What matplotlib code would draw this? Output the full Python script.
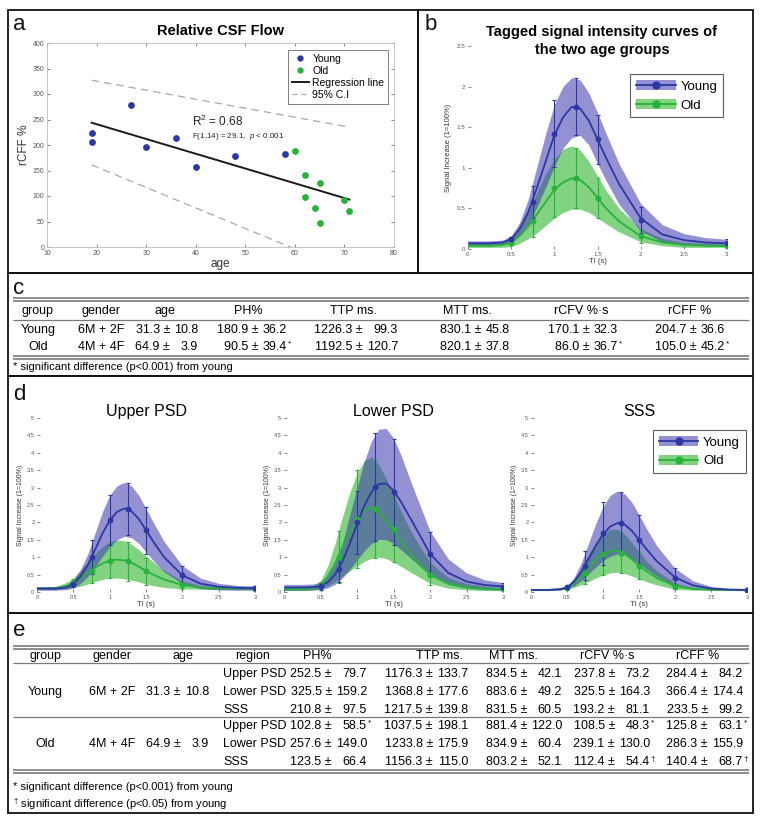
import numpy as np
import matplotlib
matplotlib.use("Agg")
import matplotlib.pyplot as plt
from matplotlib.patches import Patch, Rectangle
from matplotlib.lines import Line2D
from matplotlib.ticker import FormatStrFormatter

plt.rcParams['font.family'] = ['Liberation Sans', 'DejaVu Sans']
plt.rcParams['mathtext.fontset'] = 'custom'
plt.rcParams['mathtext.rm'] = 'Liberation Sans'
plt.rcParams['mathtext.it'] = 'Liberation Sans:italic'

# ---------------- data ----------------
# panel a: relative CSF flow vs age
young_age = [19, 19, 27, 30, 36, 40, 48, 58]
young_rcff = [223, 206, 279, 196, 213, 157, 179, 182]
old_age = [60, 62, 62, 64, 65, 65, 70, 71]
old_rcff = [188, 141, 99, 77, 125, 47, 92, 70]
ci_age = [19, 71]
ci_upper = [327, 235]
ci_lower = [161, -48]

# tagged signal curves
ti_fine = [0, 0.25, 0.4, 0.5, 0.6, 0.7, 0.8, 0.9, 1.0, 1.1, 1.2, 1.3, 1.4, 1.5, 1.6, 1.75, 2.0, 2.25, 2.5, 2.75, 3.0]
ti_meas = [0.5, 0.75, 1.0, 1.25, 1.5, 2.0, 3.0]

# panel b (all regions)
b_young_mid = [0.07, 0.07, 0.08, 0.12, 0.25, 0.46, 0.76, 1.08, 1.40, 1.62, 1.75, 1.73, 1.58, 1.35, 1.12, 0.80, 0.38, 0.18, 0.11, 0.08, 0.07]
b_young_hi = [0.10, 0.10, 0.11, 0.16, 0.33, 0.62, 1.02, 1.42, 1.78, 2.00, 2.11, 2.08, 1.92, 1.68, 1.42, 1.05, 0.56, 0.30, 0.19, 0.14, 0.12]
b_young_lo = [0.04, 0.04, 0.05, 0.08, 0.17, 0.31, 0.52, 0.76, 1.02, 1.24, 1.37, 1.40, 1.28, 1.05, 0.84, 0.55, 0.22, 0.09, 0.05, 0.04, 0.03]
b_old_mid = [0.04, 0.04, 0.05, 0.08, 0.16, 0.28, 0.43, 0.58, 0.73, 0.82, 0.87, 0.85, 0.76, 0.63, 0.50, 0.34, 0.16, 0.08, 0.05, 0.04, 0.04]
b_old_hi = [0.07, 0.07, 0.08, 0.13, 0.27, 0.46, 0.70, 0.93, 1.10, 1.23, 1.27, 1.22, 1.08, 0.90, 0.72, 0.50, 0.25, 0.13, 0.08, 0.07, 0.06]
b_old_lo = [0.02, 0.02, 0.02, 0.03, 0.07, 0.13, 0.20, 0.29, 0.38, 0.45, 0.49, 0.49, 0.45, 0.38, 0.31, 0.21, 0.09, 0.04, 0.02, 0.02, 0.02]
b_young_mean = [0.12, 0.58, 1.42, 1.75, 1.35, 0.36, 0.07]
b_young_sd = [0.03, 0.20, 0.41, 0.35, 0.30, 0.16, 0.05]
b_old_mean = [0.08, 0.35, 0.75, 0.87, 0.63, 0.16, 0.04]
b_old_sd = [0.02, 0.20, 0.36, 0.37, 0.25, 0.08, 0.02]

# panel d: Upper PSD
up_young_mid = [0.10, 0.10, 0.13, 0.23, 0.45, 0.78, 1.22, 1.68, 2.05, 2.30, 2.40, 2.32, 2.10, 1.78, 1.45, 1.00, 0.48, 0.24, 0.15, 0.12, 0.11]
up_young_hi = [0.15, 0.15, 0.20, 0.35, 0.65, 1.10, 1.70, 2.30, 2.78, 3.05, 3.15, 3.05, 2.78, 2.40, 2.00, 1.45, 0.75, 0.40, 0.25, 0.19, 0.17]
up_young_lo = [0.05, 0.05, 0.07, 0.12, 0.25, 0.45, 0.72, 1.02, 1.30, 1.50, 1.60, 1.56, 1.40, 1.15, 0.90, 0.58, 0.24, 0.10, 0.06, 0.05, 0.05]
up_old_mid = [0.10, 0.11, 0.17, 0.26, 0.40, 0.55, 0.70, 0.82, 0.90, 0.93, 0.91, 0.84, 0.73, 0.61, 0.50, 0.36, 0.20, 0.13, 0.11, 0.10, 0.10]
up_old_hi = [0.12, 0.15, 0.27, 0.40, 0.62, 0.87, 1.10, 1.30, 1.44, 1.50, 1.47, 1.37, 1.22, 1.04, 0.86, 0.62, 0.32, 0.18, 0.14, 0.12, 0.12]
up_old_lo = [0.07, 0.07, 0.09, 0.12, 0.17, 0.23, 0.30, 0.36, 0.40, 0.40, 0.38, 0.34, 0.29, 0.23, 0.18, 0.13, 0.09, 0.08, 0.07, 0.07, 0.07]
up_young_mean = [0.23, 1.00, 2.08, 2.38, 1.77, 0.48, 0.12]
up_young_sd = [0.08, 0.48, 0.72, 0.75, 0.68, 0.27, 0.04]
up_old_mean = [0.26, 0.60, 0.90, 0.88, 0.60, 0.20, 0.10]
up_old_sd = [0.10, 0.35, 0.50, 0.55, 0.39, 0.10, 0.02]

# panel d: Lower PSD
lo_young_mid = [0.13, 0.13, 0.14, 0.17, 0.28, 0.50, 0.88, 1.38, 1.95, 2.48, 2.88, 3.10, 3.12, 2.92, 2.60, 2.05, 1.10, 0.55, 0.30, 0.20, 0.16]
lo_young_hi = [0.22, 0.22, 0.23, 0.28, 0.45, 0.80, 1.40, 2.20, 3.00, 3.75, 4.35, 4.68, 4.70, 4.42, 3.95, 3.10, 1.75, 0.95, 0.55, 0.35, 0.27]
lo_young_lo = [0.05, 0.05, 0.06, 0.07, 0.12, 0.22, 0.40, 0.65, 0.92, 1.18, 1.40, 1.51, 1.50, 1.40, 1.22, 0.95, 0.48, 0.22, 0.11, 0.07, 0.05]
lo_old_mid = [0.08, 0.08, 0.11, 0.20, 0.45, 0.82, 1.28, 1.72, 2.08, 2.35, 2.42, 2.28, 2.05, 1.78, 1.48, 1.05, 0.50, 0.24, 0.14, 0.10, 0.08]
lo_old_hi = [0.12, 0.12, 0.18, 0.32, 0.75, 1.40, 2.15, 2.85, 3.40, 3.78, 3.88, 3.65, 3.25, 2.80, 2.35, 1.70, 0.85, 0.42, 0.24, 0.16, 0.12]
lo_old_lo = [0.04, 0.04, 0.05, 0.09, 0.18, 0.30, 0.45, 0.60, 0.75, 0.88, 0.97, 1.00, 0.96, 0.86, 0.74, 0.55, 0.25, 0.11, 0.06, 0.04, 0.04]
lo_young_mean = [0.17, 0.65, 2.00, 3.02, 2.88, 1.08, 0.15]
lo_young_sd = [0.10, 0.35, 0.90, 1.55, 1.52, 0.65, 0.10]
lo_old_mean = [0.20, 1.00, 2.10, 2.38, 1.80, 0.50, 0.08]
lo_old_sd = [0.10, 0.75, 1.40, 1.40, 0.95, 0.30, 0.03]

# panel d: SSS
sss_young_mid = [0.06, 0.06, 0.08, 0.13, 0.30, 0.58, 0.95, 1.33, 1.66, 1.88, 1.98, 1.94, 1.76, 1.50, 1.24, 0.88, 0.42, 0.19, 0.10, 0.07, 0.06]
sss_young_hi = [0.08, 0.08, 0.10, 0.17, 0.42, 0.85, 1.40, 1.97, 2.45, 2.78, 2.90, 2.82, 2.58, 2.22, 1.84, 1.32, 0.68, 0.32, 0.16, 0.10, 0.08]
sss_young_lo = [0.04, 0.04, 0.05, 0.09, 0.18, 0.33, 0.52, 0.72, 0.90, 1.03, 1.09, 1.07, 0.97, 0.82, 0.66, 0.45, 0.18, 0.08, 0.05, 0.04, 0.04]
sss_old_mid = [0.06, 0.06, 0.08, 0.12, 0.25, 0.45, 0.69, 0.92, 1.08, 1.18, 1.19, 1.10, 0.94, 0.76, 0.60, 0.40, 0.17, 0.09, 0.07, 0.06, 0.06]
sss_old_hi = [0.07, 0.07, 0.10, 0.15, 0.38, 0.70, 1.08, 1.42, 1.66, 1.80, 1.80, 1.66, 1.43, 1.16, 0.90, 0.60, 0.26, 0.12, 0.08, 0.07, 0.07]
sss_old_lo = [0.05, 0.05, 0.06, 0.09, 0.13, 0.21, 0.30, 0.40, 0.49, 0.55, 0.57, 0.53, 0.46, 0.38, 0.30, 0.20, 0.08, 0.05, 0.05, 0.05, 0.05]
sss_young_mean = [0.13, 0.76, 1.69, 1.97, 1.50, 0.40, 0.06]
sss_young_sd = [0.03, 0.42, 0.90, 0.90, 0.70, 0.28, 0.02]
sss_old_mean = [0.12, 0.55, 1.10, 1.13, 0.76, 0.15, 0.06]
sss_old_sd = [0.02, 0.33, 0.60, 0.58, 0.40, 0.07, 0.01]

# panel c table
c_header = ['group', 'gender', 'age', 'PH%', 'TTP ms.', 'MTT ms.', 'rCFV %·s', 'rCFF %']
c_group = ['Young', 'Old']
c_gender = ['6M + 2F', '4M + 4F']
c_age = ['31.3 ± 10.8', '64.9 ± 3.9']
c_ph = ['180.9 ± 36.2', '90.5 ± 39.4*']
c_ttp = ['1226.3 ± 99.3', '1192.5 ± 120.7']
c_mtt = ['830.1 ± 45.8', '820.1 ± 37.8']
c_rcfv = ['170.1 ± 32.3', '86.0 ± 36.7*']
c_rcff = ['204.7 ± 36.6', '105.0 ± 45.2*']

# panel e table
e_header = ['group', 'gender', 'age', 'region', 'PH%', 'TTP ms.', 'MTT ms.', 'rCFV %·s', 'rCFF %']
e_group = ['Young', 'Old']
e_gender = ['6M + 2F', '4M + 4F']
e_age = ['31.3 ± 10.8', '64.9 ± 3.9']
e_region = ['Upper PSD', 'Lower PSD', 'SSS', 'Upper PSD', 'Lower PSD', 'SSS']
e_ph = ['252.5 ± 79.7', '325.5 ± 159.2', '210.8 ± 97.5', '102.8 ± 58.5*', '257.6 ± 149.0', '123.5 ± 66.4']
e_ttp = ['1176.3 ± 133.7', '1368.8 ± 177.6', '1217.5 ± 139.8', '1037.5 ± 198.1', '1233.8 ± 175.9', '1156.3 ± 115.0']
e_mtt = ['834.5 ± 42.1', '883.6 ± 49.2', '831.5 ± 60.5', '881.4 ± 122.0', '834.9 ± 60.4', '803.2 ± 52.1']
e_rcfv = ['237.8 ± 73.2', '325.5 ± 164.3', '193.2 ± 81.1', '108.5 ± 48.3*', '239.1 ± 130.0', '112.4 ± 54.4†']
e_rcff = ['284.4 ± 84.2', '366.4 ± 174.4', '233.5 ± 99.2', '125.8 ± 63.1*', '286.3 ± 155.9', '140.4 ± 68.7†']

# ---------------- style ----------------
BLUE = '#2b38a3'
GREEN = '#27b33a'
BLUE_FILL = '#3c37b0'
GREEN_FILL = '#2fb52f'
W, H = 763, 819

fig = plt.figure(figsize=(W / 100, H / 100), dpi=100)


def px_axes(x0, y0, x1, y1):
    return fig.add_axes([x0 / W, 1 - y1 / H, (x1 - x0) / W, (y1 - y0) / H])


def matlab_ticks(ax, size):
    ax.tick_params(direction='in', length=2, width=0.5, colors='#555555', labelsize=size, pad=2)
    ax.xaxis.set_major_formatter(FormatStrFormatter('%g'))
    ax.yaxis.set_major_formatter(FormatStrFormatter('%g'))


# ---------------- panel a ----------------
ax = px_axes(47, 43, 394, 247)
ax.set_facecolor('none')
all_age = np.array(young_age + old_age)
all_rcff = np.array(young_rcff + old_rcff)
slope, icpt = np.polyfit(all_age, all_rcff, 1)
ax.plot(ci_age, ci_upper, ls=(0, (6, 4)), color='#a8a8a8', lw=0.9)
ax.plot(ci_age, ci_lower, ls=(0, (6, 4)), color='#a8a8a8', lw=0.9)
ages = np.array([min(all_age), max(all_age)])
ax.plot(ages, slope * ages + icpt, color='#1a1a1a', lw=1.4)
ax.scatter(young_age, young_rcff, s=15, color=BLUE, zorder=3)
ax.scatter(old_age, old_rcff, s=15, color=GREEN, zorder=3)
ax.set_xlim(10, 80)
ax.set_ylim(0, 400)
ax.set_xticks(range(10, 81, 10))
ax.set_yticks(range(0, 401, 50))
matlab_ticks(ax, 5)
ax.tick_params(top=True, right=True)
for s in ax.spines.values():
    s.set_color('#bbbbbb')
    s.set_linewidth(0.6)
ax.set_xlabel('age', fontsize=8.5, color='#333333', labelpad=1)
ax.set_ylabel('rCFF %', fontsize=8.5, color='#333333', labelpad=2)
ax.set_title('Relative CSF Flow', fontsize=10.5, fontweight='bold', pad=6)
ax.text(39.3, 246, 'R$^2$ = 0.68', fontsize=8.5, color='#222222', va='center')
ax.text(39.3, 217, 'F(1,14) = 29.1,  $p$ < 0.001', fontsize=5.8, color='#222222', va='center')
h_a = [Line2D([], [], ls='', marker='o', ms=3.5, color=BLUE),
       Line2D([], [], ls='', marker='o', ms=3.5, color=GREEN),
       Line2D([], [], color='#1a1a1a', lw=1.4),
       Line2D([], [], color='#a8a8a8', lw=0.9, ls=(0, (4, 3)))]
leg = ax.legend(h_a, ['Young', 'Old', 'Regression line', '95% C.I'], loc='upper right',
                fontsize=7.5, frameon=True, fancybox=False, edgecolor='#444444',
                handlelength=1.7, handletextpad=0.3, borderpad=0.35, labelspacing=0.2,
                borderaxespad=0, bbox_to_anchor=(0.983, 0.965))
leg.get_frame().set_linewidth(0.6)


# ---------------- curve panels ----------------
def draw_curves(ax, y_mid, y_hi, y_lo, o_mid, o_hi, o_lo, y_mean, y_sd, o_mean, o_sd):
    ax.fill_between(ti_fine, o_lo, o_hi, color=GREEN_FILL, alpha=0.6, lw=0)
    ax.fill_between(ti_fine, y_lo, y_hi, color=BLUE_FILL, alpha=0.55, lw=0)
    ax.plot(ti_fine, o_mid, color=GREEN, lw=1.3)
    ax.errorbar(ti_meas, o_mean, yerr=o_sd, fmt='o', ms=3.2, color=GREEN,
                elinewidth=0.8, capsize=1.5, capthick=0.8)
    ax.plot(ti_fine, y_mid, color=BLUE, lw=1.3)
    ax.errorbar(ti_meas, y_mean, yerr=y_sd, fmt='o', ms=3.2, color=BLUE,
                elinewidth=0.8, capsize=1.5, capthick=0.8)
    ax.set_xlim(0, 3)
    ax.set_xticks(np.arange(0, 3.01, 0.5))
    for s in ax.spines.values():
        s.set_visible(False)
    ax.set_facecolor('none')


def curve_legend(ax, anchor, fs):
    h = [(Patch(fc=BLUE_FILL, alpha=0.55, lw=0), Line2D([], [], color=BLUE, lw=1.3, marker='o', ms=5)),
         (Patch(fc=GREEN_FILL, alpha=0.6, lw=0), Line2D([], [], color=GREEN, lw=1.3, marker='o', ms=5))]
    lg = ax.legend(h, ['Young', 'Old'], loc='upper right', bbox_to_anchor=anchor, fontsize=fs,
                   frameon=True, fancybox=False, edgecolor='#333333', handlelength=3.0,
                   handleheight=0.8, handletextpad=0.35, borderpad=0.45, labelspacing=0.45,
                   borderaxespad=0)
    lg.get_frame().set_linewidth(0.8)


# panel b
axb = px_axes(468, 46, 727, 249)
draw_curves(axb, b_young_mid, b_young_hi, b_young_lo, b_old_mid, b_old_hi, b_old_lo,
            b_young_mean, b_young_sd, b_old_mean, b_old_sd)
axb.set_ylim(0, 2.5)
axb.set_yticks(np.arange(0, 2.51, 0.5))
matlab_ticks(axb, 4.5)
axb.set_xlabel('TI (s)', fontsize=5.5, color='#333333', labelpad=1)
axb.set_ylabel('Signal Increase (1=100%)', fontsize=5.5, color='#333333', labelpad=3)
curve_legend(axb, (0.985, 0.86), 9.5)

# panel d
d_axes = []
d_titles = ['Upper PSD', 'Lower PSD', 'SSS']
d_data = [
    (up_young_mid, up_young_hi, up_young_lo, up_old_mid, up_old_hi, up_old_lo,
     up_young_mean, up_young_sd, up_old_mean, up_old_sd),
    (lo_young_mid, lo_young_hi, lo_young_lo, lo_old_mid, lo_old_hi, lo_old_lo,
     lo_young_mean, lo_young_sd, lo_old_mean, lo_old_sd),
    (sss_young_mid, sss_young_hi, sss_young_lo, sss_old_mid, sss_old_hi, sss_old_lo,
     sss_young_mean, sss_young_sd, sss_old_mean, sss_old_sd),
]
d_x = [(37, 255), (284, 503), (531, 747)]
for (x0, x1), title, dat in zip(d_x, d_titles, d_data):
    axd = px_axes(x0, 418, x1, 592)
    draw_curves(axd, *dat)
    axd.set_ylim(0, 5)
    axd.set_yticks(np.arange(0, 5.01, 0.5))
    matlab_ticks(axd, 4)
    axd.set_xlabel('TI (s)', fontsize=5.5, color='#333333', labelpad=1)
    axd.set_ylabel('Signal Increase (1=100%)', fontsize=5, color='#333333', labelpad=2)
    axd.set_title(title, fontsize=11.5, pad=0, y=1.01)
    d_axes.append(axd)
curve_legend(d_axes[2], (0.995, 0.93), 9.5)

# ---------------- overlay: borders, labels, tables ----------------
ov = fig.add_axes([0, 0, 1, 1], zorder=10)
ov.set_xlim(0, W)
ov.set_ylim(H, 0)
ov.axis('off')

for (x0, y0, x1, y1) in [(8, 10, 418, 273), (418, 10, 753, 273), (8, 273, 753, 376),
                         (8, 376, 753, 613), (8, 613, 753, 813)]:
    ov.add_patch(Rectangle((x0, y0), x1 - x0, y1 - y0, fill=False, ec='#111111', lw=1.3))

for lab, (x, y) in zip('abcde', [(19, 24), (431, 24), (19, 288), (19, 394), (19, 630)]):
    ov.text(x, y, lab, fontsize=16, ha='center', va='center', color='#111111')

ov.text(602, 32, 'Tagged signal intensity curves of', fontsize=10.5, fontweight='bold', ha='center', va='center')
ov.text(602, 50, 'the two age groups', fontsize=10.5, fontweight='bold', ha='center', va='center')


def double_rule(y, x0=13, x1=749):
    ov.plot([x0, x1], [y, y], color='#7a7a7a', lw=1.2, solid_capstyle='butt')
    ov.plot([x0, x1], [y + 3, y + 3], color='#7a7a7a', lw=1.2, solid_capstyle='butt')


def single_rule(y, x0=13, x1=749):
    ov.plot([x0, x1], [y, y], color='#7a7a7a', lw=0.9, solid_capstyle='butt')


def value_cell(val, x_pm, x_sd, y, fs, fam):
    mark = ''
    if val[-1] in '*†':
        mark = val[-1]
        val = val[:-1]
    mean, sd = val.split(' ± ')
    ov.text(x_pm, y, mean + ' ±', ha='right', va='center', fontsize=fs, family=fam)
    ov.text(x_sd, y, sd, ha='right', va='center', fontsize=fs, family=fam)
    if mark:
        ov.text(x_sd + 0.5, y - 3, mark, ha='left', va='center', fontsize=fs * 0.65, family=fam)


# panel c
fam_c = ['Liberation Sans', 'DejaVu Sans']
fs_c = 9
double_rule(298)
single_rule(320)
double_rule(356)
c_head_x = [38, 101, 165, 248, 353, 467, 581, 690]
for s, x in zip(c_header, c_head_x):
    ov.text(x, 311, s, ha='center', va='center', fontsize=fs_c, family=fam_c)
c_rows_y = [330, 347]
c_val_cols = [(c_age, 170, 198), (c_ph, 259, 287), (c_ttp, 363, 398), (c_mtt, 482, 510),
              (c_rcfv, 590, 618), (c_rcff, 697, 725)]
for i, y in enumerate(c_rows_y):
    ov.text(c_head_x[0], y, c_group[i], ha='center', va='center', fontsize=fs_c, family=fam_c)
    ov.text(c_head_x[1], y, c_gender[i], ha='center', va='center', fontsize=fs_c, family=fam_c)
    for vals, xp, xs in c_val_cols:
        value_cell(vals[i], xp, xs, y, fs_c, fam_c)
ov.text(13, 367, '* significant difference (p<0.001) from young', ha='left', va='center',
        fontsize=8, family=fam_c)

# panel e
fam_e = ['Liberation Sans', 'DejaVu Sans']
fs_e = 9
double_rule(646)
single_rule(663)
single_rule(717, 13, 749)
double_rule(770)
e_head_x = [45, 112, 183, 253, 317, 439, 513, 607, 698]
for s, x in zip(e_header, e_head_x):
    ov.text(x, 656, s, ha='center', va='center', fontsize=fs_e, family=fam_e)
e_rows_y = [674, 692, 710, 726, 744, 762]
for g in range(2):
    ym = e_rows_y[3 * g + 1]
    ov.text(e_head_x[0], ym, e_group[g], ha='center', va='center', fontsize=fs_e, family=fam_e)
    ov.text(e_head_x[1], ym, e_gender[g], ha='center', va='center', fontsize=fs_e, family=fam_e)
    value_cell(e_age[g], 181, 209, ym, fs_e, fam_e)
e_val_cols = [(e_ph, 332, 367), (e_ttp, 433, 468), (e_mtt, 527, 562), (e_rcfv, 615, 650),
              (e_rcff, 708, 743)]
for i, y in enumerate(e_rows_y):
    ov.text(223, y, e_region[i], ha='left', va='center', fontsize=fs_e, family=fam_e)
    for vals, xp, xs in e_val_cols:
        value_cell(vals[i], xp, xs, y, fs_e, fam_e)
ov.text(13, 787, '* significant difference (p<0.001) from young', ha='left', va='center',
        fontsize=8, family=fam_e)
ov.text(13, 804, '$^{†}$ significant difference (p<0.05) from young', ha='left', va='center',
        fontsize=8, family=fam_e)

fig.savefig('out.png', dpi=100)
